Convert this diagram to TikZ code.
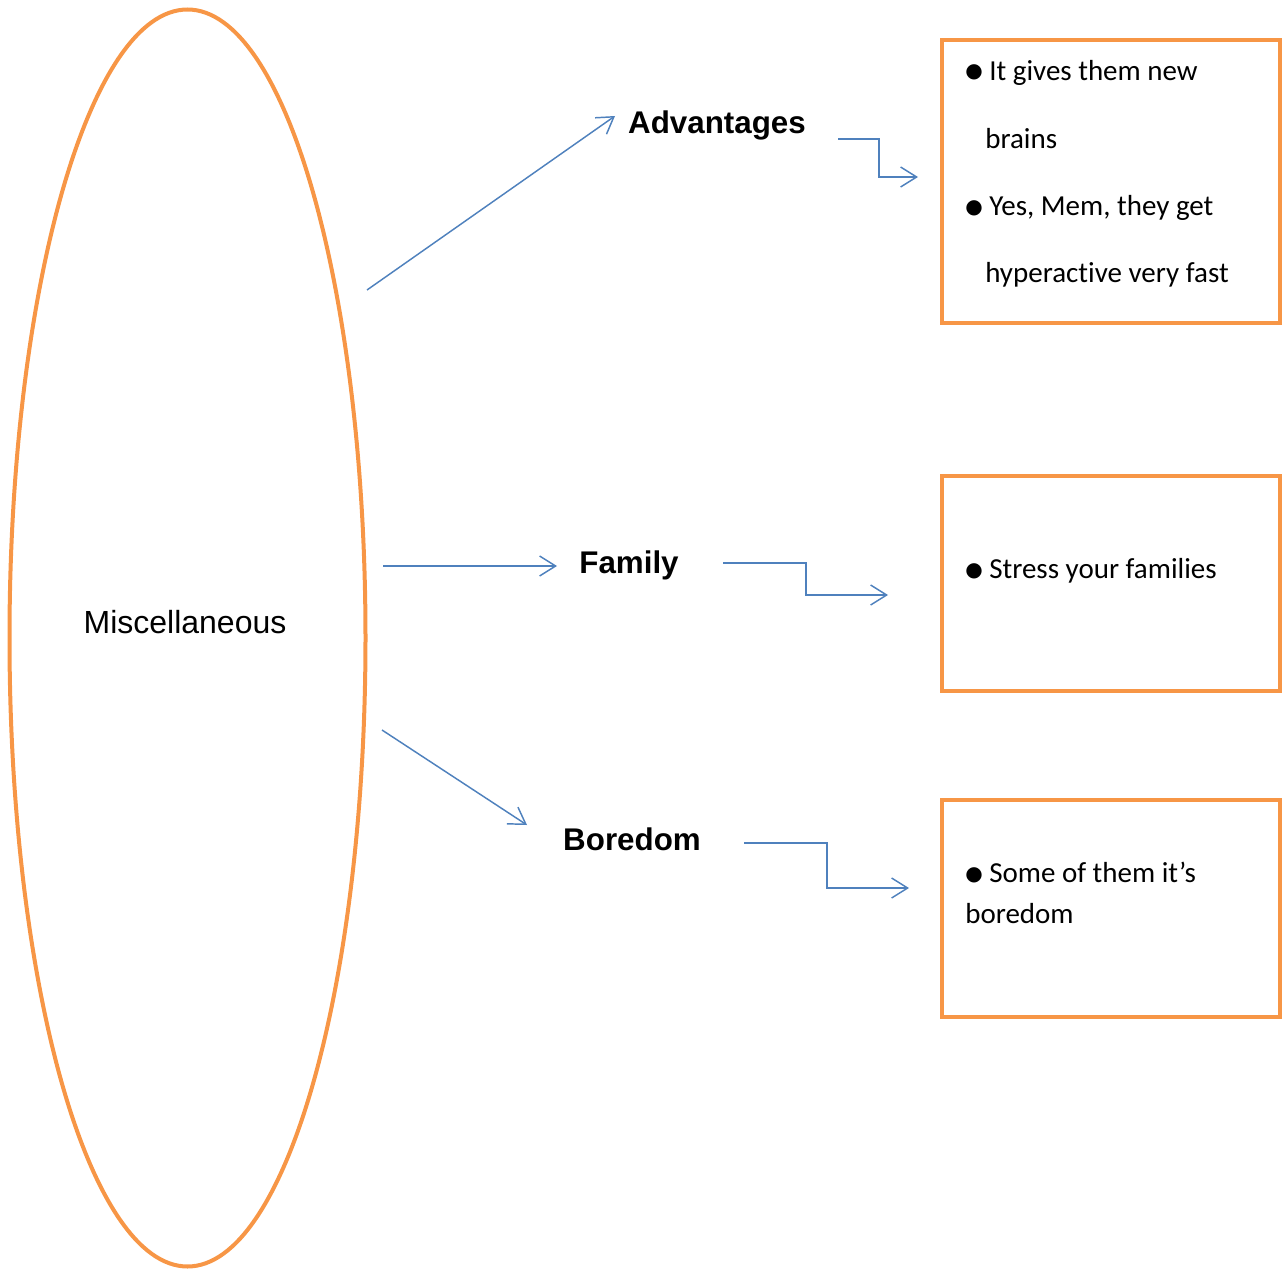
\documentclass[tikz,border=0pt]{standalone}
\usepackage{fontspec}
\setmainfont[Ligatures=NoCommon]{Carlito}
\newfontfamily\arialf{Liberation Sans}
\newfontfamily\symf{DejaVu Sans}
\usetikzlibrary{arrows.meta,shapes.geometric}
\definecolor{orng}{HTML}{F79646}
\definecolor{blu}{HTML}{4F81BD}
\begin{document}
\begin{tikzpicture}[x=0.75pt,y=-0.75pt,
  orangeline/.style={draw=orng, line width=3pt},
  box/.style={orangeline, rectangle, inner sep=0pt, minimum width=253.5pt},
  conn/.style={draw=blu, line width=1.1pt, -{Straight Barb[length=12pt,width=15pt,line width=1.1pt]}},
  lab/.style={font=\arialf\bfseries\fontsize{23.5}{28}\selectfont, inner sep=0pt, anchor=base},
  txt/.style={font=\fontsize{21.75}{26}\selectfont, inner sep=0pt, anchor=base west},
  bul/.style={font=\symf\fontsize{15}{15}\selectfont, inner sep=0pt, anchor=base west},
]
\useasboundingbox (0,0) rectangle (1282,1270);

% ellipse
\node[ellipse, orangeline, inner sep=0pt, minimum width=267pt, minimum height=942.75pt] (ell) at (187.5,638) {};
\node[font=\arialf\fontsize{24}{28}\selectfont, inner sep=0pt, anchor=base] (misc) at (185,633) {Miscellaneous};

% labels
\node[lab] (adv) at (717,133) {Advantages};
\node[lab] (fam) at (629,573) {Family};
\node[lab] (bor) at (632,850) {Boredom};

% boxes
\node[box, minimum height=212.25pt] (box1) at (1111,181.5) {};
\node[box, minimum height=161.25pt] (box2) at (1111,583.5) {};
\node[box, minimum height=162.75pt] (box3) at (1111,908.5) {};

% box texts
\node[bul] (b1) at (965,78) {●};
\node[txt] (t1) at (989,80) {It gives them new};
\node[txt] (t2) at (985,148) {brains};
\node[bul] (b2) at (965,213) {●};
\node[txt] (t3) at (989,215) {Yes, Mem, they get};
\node[txt] (t4) at (985,282) {hyperactive very fast};
\node[bul] (b3) at (965,576) {●};
\node[txt] (t5) at (989,578) {Stress your families};
\node[bul] (b4) at (965,880) {●};
\node[txt] (t6) at (989,882) {Some of them it’s};
\node[txt] (t7) at (965,923) {boredom};

% connector coordinates
\coordinate (a1s) at (367,290); \coordinate (a1e) at (615,116);
\coordinate (a2s) at (383,566); \coordinate (a2e) at (557,566);
\coordinate (a3s) at (382,730); \coordinate (a3e) at (527,825);
\coordinate (e1s) at (838,139); \coordinate (e1e) at (918,177);
\coordinate (e2s) at (723,563); \coordinate (e2e) at (888,595);
\coordinate (e3s) at (744,843); \coordinate (e3e) at (909,888);

\draw[conn] (a1s) -- (a1e);
\draw[conn] (a2s) -- (a2e);
\draw[conn] (a3s) -- (a3e);
\draw[conn] (e1s) -- ++(41,0) |- (e1e);
\draw[conn] (e2s) -- ++(83,0) |- (e2e);
\draw[conn] (e3s) -- ++(83,0) |- (e3e);
\end{tikzpicture}
\end{document}
